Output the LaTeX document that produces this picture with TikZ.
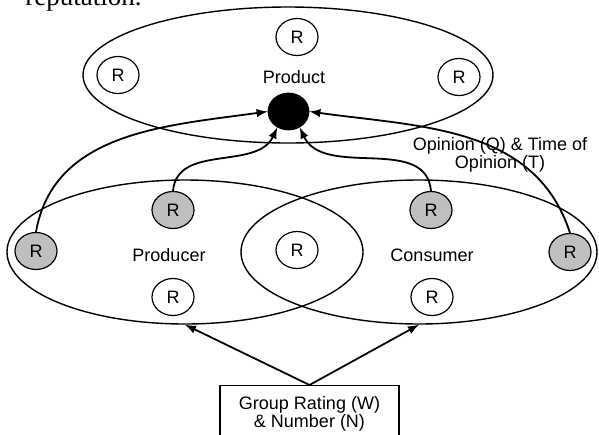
\documentclass[tikz,border=0pt]{standalone}
\usepackage{fontspec}
\setmainfont{Liberation Serif}
\setsansfont{Liberation Sans}
\usetikzlibrary{shapes.geometric}

\tikzset{
  rnode/.style={ellipse,draw,line width=0.6pt,minimum width=21pt,minimum height=18.5pt,inner sep=0pt},
  rgray/.style={rnode,fill=black!25},
  group/.style={ellipse,draw,line width=0.7pt},
  link/.style={-latex,line width=0.9pt}
}

\begin{document}
\begin{tikzpicture}[x=0.5pt,y=-0.5pt,font=\sffamily\fontsize{9}{9}\selectfont]
    \useasboundingbox (0,0) rectangle (599,434);

    % Line of text cut off above the picture
    \node[anchor=base west,inner sep=0pt,font=\rmfamily\fontsize{13.5}{14}\selectfont] (rep) at (25,5) {reputation.};

    % Group ellipses
    \node[group,minimum width=205pt,minimum height=68pt] (product) at (288,75) {};
    \node[group,minimum width=178pt,minimum height=72pt] (producer) at (185,252) {};
    \node[group,minimum width=178pt,minimum height=72pt] (consumer) at (419,252) {};

    % Group names
    \node (lProduct) at (294,77) {Product};
    \node (lProducer) at (169,255) {Producer};
    \node (lConsumer) at (432,255) {Consumer};

    % Ratings in the product group
    \node[rnode] (rL) at (118,75) {R};
    \node[rnode] (rT) at (297,37) {R};
    \node[rnode] (rR) at (459,77) {R};

    % Product reputation
    \node[ellipse,draw,fill=black,minimum width=20.5pt,minimum height=18.5pt,inner sep=0pt] (dot) at (288.5,111.5) {};

    % Ratings of producers and consumers
    \node[rgray] (gL) at (36,251) {R};
    \node[rgray] (gP) at (173,210) {R};
    \node[rnode] (wP) at (173,297) {R};
    \node[rnode] (rM) at (297,250) {R};
    \node[rgray] (gC) at (431,210) {R};
    \node[rnode] (wC) at (432,297) {R};
    \node[rgray] (gR) at (570,252) {R};

    % Opinions towards the product
    \node[align=center] (opinion) at (500,155) {Opinion (Q) \& Time of\\Opinion (T)};
    \draw[link] (gL.north) to[out=80,in=188] (dot.west);
    \draw[link] (gP.north) to[out=85,in=-115] (dot.-125);
    \draw[link] (gC.north) to[out=95,in=-65] (dot.-55);
    \draw[link] (gR.north) to[out=108,in=-8] (dot.east);

    % Group rating box
    \node[draw,line width=0.6pt,align=center,minimum width=89.5pt,minimum height=28pt,anchor=north] (rating) at (309.5,385) {Group Rating (W)\\\& Number (N)};
    \draw[link] (rating.north) -- (producer.south);
    \draw[link] (rating.north) -- (consumer.south);

\end{tikzpicture}
\end{document}
